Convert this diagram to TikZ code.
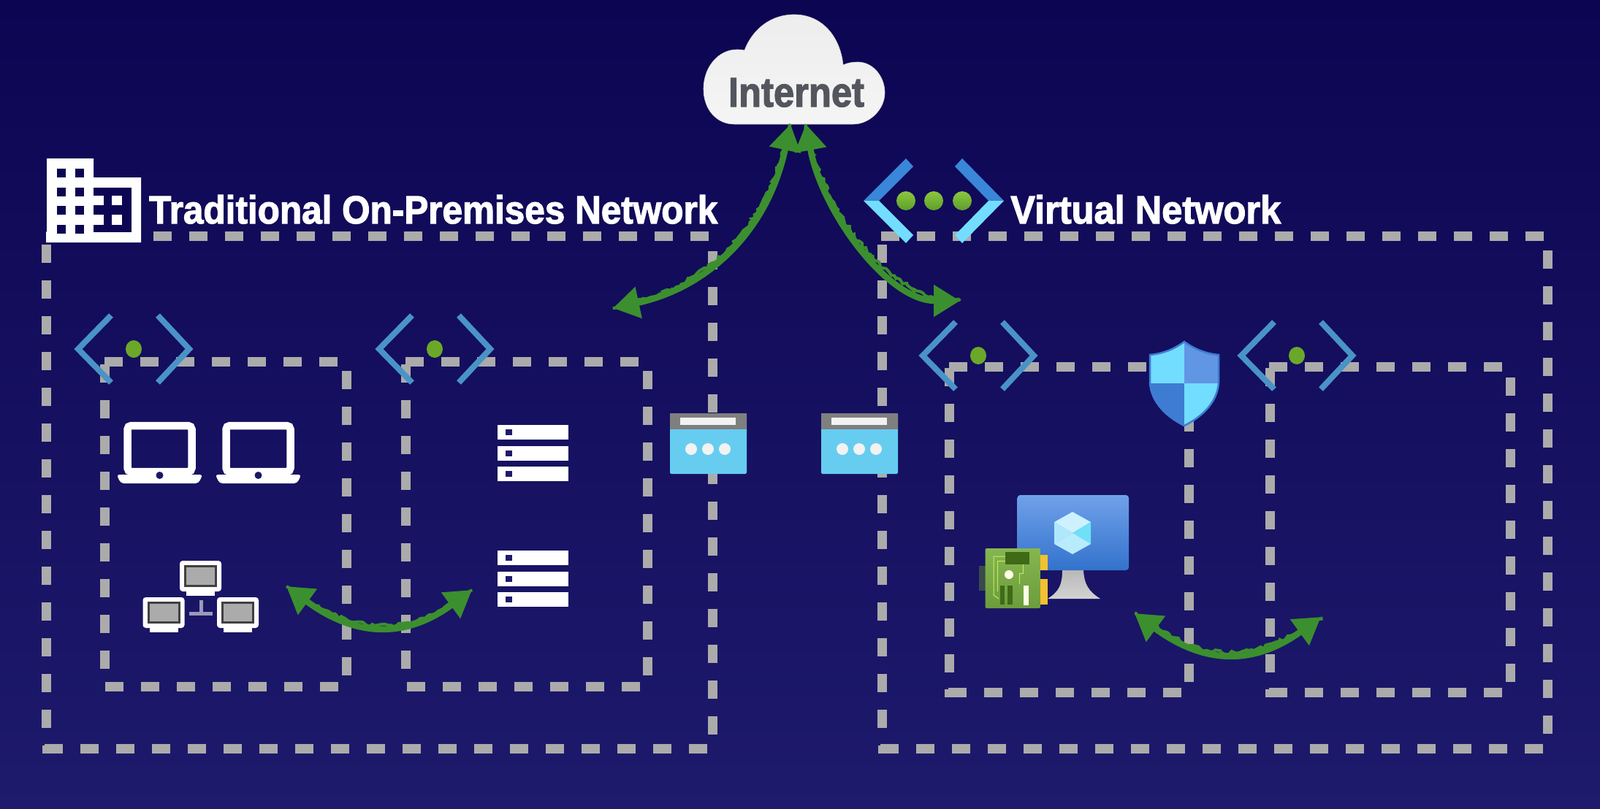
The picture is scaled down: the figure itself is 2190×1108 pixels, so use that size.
\documentclass[tikz,border=0pt]{standalone}
\usepackage{fontspec}
\setmainfont{Liberation Sans}
\newfontfamily\titlefont[FakeBold=2.2]{Liberation Sans Bold}
\usetikzlibrary{arrows.meta,decorations.pathmorphing}
\definecolor{bgtop}{HTML}{0C0552}
\definecolor{bgbot}{HTML}{1E1A6C}
\definecolor{dashc}{HTML}{ABABAB}
\definecolor{chev}{HTML}{4A93C6}
\definecolor{dotg}{HTML}{6BA82A}
\definecolor{dotup}{HTML}{8CC63F}
\definecolor{dotdown}{HTML}{5E9E2B}
\definecolor{arrg}{HTML}{3C8F2E}
\definecolor{gwgrey}{HTML}{7F7F7F}
\definecolor{gwblue}{HTML}{66CDF0}
\definecolor{darkblue}{HTML}{3A86D8}
\definecolor{lightblue}{HTML}{72DDFF}
\definecolor{inettext}{HTML}{54565E}
\definecolor{pcwire}{HTML}{9A9AB8}
\definecolor{shieldtr}{HTML}{6096E4}
\definecolor{shieldbl}{HTML}{3E7BD2}
\definecolor{vmtop}{HTML}{6FA1E9}
\definecolor{vmbot}{HTML}{3372CC}
\definecolor{cubea}{HTML}{CDF1FF}
\definecolor{cubeb}{HTML}{6FE0F8}
\definecolor{cubec}{HTML}{B0E8FB}
\definecolor{cubed}{HTML}{B8ECFC}
\definecolor{nicbr}{HTML}{3A4A4A}
\definecolor{nicgold}{HTML}{F2C230}
\definecolor{nictop}{HTML}{86B650}
\definecolor{nicbot}{HTML}{6C9C3C}
\definecolor{nicdark}{HTML}{3F6A17}
\definecolor{nicline}{HTML}{C4EE60}
\tikzset{
  x=1pt,y=-1pt,
  dashline/.style={draw=dashc,line width=13pt,dash pattern=on 25pt off 24pt},
  chevline/.style={draw=chev,line width=8pt,miter limit=10},
  whitefill/.style={fill=white,draw=none},
  twoway/.style={draw=arrg,line width=8.5pt,{Triangle[length=36pt,width=42pt]}-{Triangle[length=36pt,width=42pt]}},
  rough/.style={draw=arrg,line width=4pt,decorate,decoration={random steps,segment length=4pt,amplitude=2.5pt}},
  title/.style={text=white,anchor=base west,inner sep=0pt},
}
\newcommand{\subnetmark}[2]{%
  \draw[chevline] (#1-31,#2-46) -- (#1-76,#2) -- (#1-31,#2+46);
  \draw[chevline] (#1+33,#2-46) -- (#1+76,#2) -- (#1+33,#2+46);
  \fill[dotg] (#1,#2) ellipse [x radius=11pt,y radius=12pt];
}
\newcommand{\gateway}[1]{%
  \fill[gwblue,rounded corners=2pt] (#1,566) rectangle (#1+105,649);
  \fill[gwgrey] (#1,566) rectangle (#1+105,588);
  \fill[white!95!black] (#1+14,572) rectangle (#1+90,582);
  \foreach \d in {29,52,75}{\fill[white!95!black] (#1+\d,615) circle (8pt);}
}
\newcommand{\laptop}[1]{%
  \draw[white,line width=10.5pt,rounded corners=5pt] (#1+15,583) rectangle (#1+103,646);
  \fill[white,rounded corners=4pt] (#1,650) -- (#1+118,650) -- (#1+112,662) -- (#1+6,662) -- cycle;
  \fill[bgbot!85!bgtop] (#1+59,651) circle (5pt);
}
\newcommand{\serverstack}[1]{%
  \foreach \r in {0,28.5,57}{
    \fill[white] (681,#1+\r) rectangle (778,#1+\r+20);
    \fill[bgbot] (692,#1+\r+6) rectangle (701,#1+\r+14);
  }
}
\newcommand{\pc}[2]{%
  \fill[white,rounded corners=4pt] (#1,#2) rectangle (#1+57,#2+42);
  \fill[white] (#1+9,#2+42) rectangle (#1+48,#2+48);
  \fill[black!75] (#1+6,#2+6) rectangle (#1+51,#2+36);
  \fill[dashc] (#1+9,#2+9) rectangle (#1+48,#2+33);
}
\begin{document}
\begin{tikzpicture}
\useasboundingbox (0,0) rectangle (2190,1108);
\shade[top color=bgtop,bottom color=bgbot] (0,0) rectangle (2190,1108);

% dashed frames
\path[dashline] (63,323) -- (975,323);
\path[dashline] (63,335) -- (63,1000);
\path[dashline] (975,344) -- (975,1010);
\path[dashline] (61,1025) -- (972,1025);
\fill[dashc] (58,1021) rectangle (61,1031.5);
\path[dashline] (143,495) -- (473,495);
\path[dashline] (143,499) -- (143,925);
\path[dashline] (474,508) -- (474,926);
\path[dashline] (144,940) -- (473,940);
\path[dashline] (555,495) -- (885,495);
\path[dashline] (555,499) -- (555,925);
\path[dashline] (886,508) -- (886,926);
\path[dashline] (556.5,940) -- (885,940);
\path[dashline] (1206,323) -- (2118,323);
\path[dashline] (1207,335) -- (1207,1000);
\path[dashline] (2118.5,343) -- (2118.5,1010);
\path[dashline] (1205,1025) -- (2115,1025);
\fill[dashc] (1201.5,1021) rectangle (1205,1031.5);
\path[dashline] (1299,502) -- (1627,502);
\path[dashline] (1299,504) -- (1299,925);
\path[dashline] (1627.5,566) -- (1627.5,936);
\path[dashline] (1298,948) -- (1620,948);
\fill[dashc] (1293,944) rectangle (1298,954.5);
\path[dashline] (1737,502) -- (2057,502);
\path[dashline] (1738,504) -- (1738,925);
\path[dashline] (2067.5,517) -- (2067.5,936);
\path[dashline] (1737,948) -- (2060,948);
\fill[dashc] (1732,944) rectangle (1737,954.5);

% title icons
\fill[white] (64,217) -- (128,217) -- (128,243) -- (193,243) -- (193,332) -- (63,332) -- (63,318) -- (64,318) -- cycle;
\foreach \yy in {231,257,282,308}{
  \foreach \xx in {78,103}{\fill[bgtop] (\xx,\yy) rectangle (\xx+12,\yy+12);}
}
\fill[bgtop] (128,257) rectangle (180,318);
\fill[white] (128,268) rectangle (142,281);
\fill[white] (128,294) rectangle (142,308);
\fill[white] (153,268) rectangle (167,281);
\fill[white] (153,294) rectangle (167,308);

\fill[darkblue] (1182,275) -- (1240,217) -- (1250,228) -- (1203,275) -- cycle;
\fill[lightblue] (1182,275) -- (1240,333) -- (1250,322) -- (1203,275) -- cycle;
\fill[darkblue] (1374,275) -- (1317,217) -- (1307,228) -- (1353,275) -- cycle;
\fill[lightblue] (1374,275) -- (1317,333) -- (1307,322) -- (1353,275) -- cycle;
\foreach \xx in {1240,1278,1317}{\shade[top color=dotup,bottom color=dotdown] (\xx,275) ellipse [x radius=13pt,y radius=13pt];}

\node[title] (tradtitle) at (204,306) {\resizebox{778pt}{39pt}{\titlefont Traditional On-Premises Network}};
\node[title] (vnettitle) at (1383,306) {\resizebox{370pt}{39pt}{\titlefont Virtual Network}};

% cloud
\shade[top color=white!93!black,bottom color=white!96!black,draw=white!70!gray,line width=.6pt] (1005,170) .. controls (981,170) and (963,150) .. (963,122) .. controls (963,90) and (985,68) .. (1008,68) .. controls (1012,68) and (1016,68) .. (1019,69) .. controls (1030,40) and (1055,20) .. (1087,20) .. controls (1125,20) and (1150,50) .. (1154,89) .. controls (1160,86) and (1168,85) .. (1174,85) .. controls (1195,85) and (1211,105) .. (1211,127) .. controls (1211,150) and (1190,170) .. (1168,170) -- cycle;
\node[inner sep=0pt,anchor=base,text=inettext] (inet) at (1090,146) {\resizebox{186pt}{39pt}{\titlefont Internet}};

% subnet icons
\subnetmark{183}{478}
\subnetmark{595}{478}
\subnetmark{1339}{487}
\subnetmark{1775}{487}

% gateways
\gateway{917}
\gateway{1124}

% laptops
\laptop{159.5}
\laptop{294.5}

% servers
\serverstack{582}
\serverstack{754}

% network PCs
\pc{246}{768}
\pc{195.5}{818}
\pc{297}{818}
\draw[draw=pcwire,line width=5pt] (275,822) -- (275,840) (259,840) -- (291,840);

% shield
\fill[lightblue] (1574,486) .. controls (1595,484) and (1610,476) .. (1621,468) -- (1621,525) -- (1574,525) -- cycle;
\fill[shieldtr] (1668,486) .. controls (1647,484) and (1632,476) .. (1621,468) -- (1621,525) -- (1668,525) -- cycle;
\fill[shieldbl] (1574,525) .. controls (1576,550) and (1595,570) .. (1621,583) -- (1621,525) -- cycle;
\fill[lightblue] (1668,525) .. controls (1666,550) and (1647,570) .. (1621,583) -- (1621,525) -- cycle;
\draw[shieldbl,line width=2.5pt] (1574,486) .. controls (1595,484) and (1610,476) .. (1621,468) .. controls (1632,476) and (1647,484) .. (1668,486) -- (1668,525) .. controls (1666,550) and (1647,570) .. (1621,583) .. controls (1595,570) and (1576,550) .. (1574,525) -- cycle;

% VM
\shade[top color=gray!55!white,bottom color=gray!35!white] (1454,781) -- (1483,781) .. controls (1484,800) and (1490,810) .. (1506,820) -- (1434,820) .. controls (1450,810) and (1454,800) .. (1454,781) -- cycle;
\shade[top color=vmtop,bottom color=vmbot,rounded corners=4pt] (1392.5,678) rectangle (1545,781);
\fill[cubea] (1468,701) -- (1493,715) -- (1468,730) -- (1443,715) -- cycle;
\fill[cubeb] (1493,715) -- (1493,745) -- (1468,730) -- cycle;
\fill[cubec] (1443,715) -- (1443,745) -- (1468,730) -- cycle;
\fill[cubed] (1443,745) -- (1468,759) -- (1493,745) -- (1468,730) -- cycle;

% NIC
\fill[nicbr] (1340,775) rectangle (1349,809);
\fill[nicgold] (1422,760) rectangle (1434,781);
\fill[nicgold] (1422,793) rectangle (1434,828);
\shade[top color=nictop,bottom color=nicbot,rounded corners=2pt] (1348.5,751) rectangle (1424,833);
\fill[nicdark] (1376,756) rectangle (1409,773);
\fill[white!90!yellow] (1381,787) circle (6pt);
\fill[nicdark] (1369,802) rectangle (1375,828);
\fill[nicdark] (1379,802) rectangle (1385.5,828);
\fill[white!90!yellow] (1401,802) rectangle (1408,829);
\draw[nicline,line width=1pt] (1376,762) -- (1360,762) -- (1360,815) -- (1367,820);
\draw[nicline,line width=1pt] (1376,768) -- (1365,768) -- (1365,810);
\draw[nicline,line width=1pt] (1400,773) -- (1400,785) -- (1395,785) -- (1395,800);

% arrows
\coordinate (cloudL) at (1082,170);
\coordinate (cloudR) at (1103,170);
\coordinate (premEnd) at (839,422);
\coordinate (vnetEnd) at (1314,412);
\coordinate (pcEnd) at (392,803);
\coordinate (srvEnd) at (646,808);
\coordinate (vmEnd) at (1553,840);
\coordinate (subEnd) at (1808,845);
\draw[twoway] (cloudL) .. controls (1050,320) and (965,395) .. (premEnd);
\draw[twoway] (cloudR) .. controls (1125,290) and (1215,412) .. (vnetEnd);
\draw[twoway] (pcEnd) .. controls (488,874) and (556,874) .. (srvEnd);
\draw[twoway] (vmEnd) .. controls (1649,911) and (1717,911) .. (subEnd);
\path[rough] (cloudL) .. controls (1050,320) and (965,395) .. (premEnd);
\path[rough] (cloudR) .. controls (1125,290) and (1215,412) .. (vnetEnd);
\path[rough] (pcEnd) .. controls (488,874) and (556,874) .. (srvEnd);
\path[rough] (vmEnd) .. controls (1649,911) and (1717,911) .. (subEnd);
\end{tikzpicture}
\end{document}
